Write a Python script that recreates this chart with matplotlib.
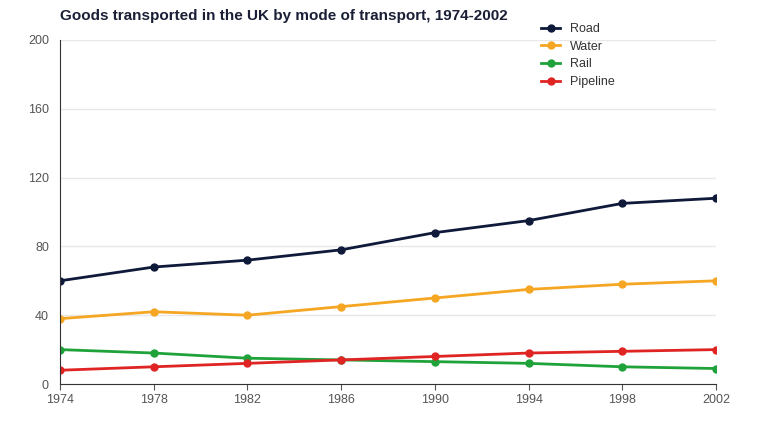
import matplotlib.pyplot as plt

years = [1974, 1978, 1982, 1986, 1990, 1994, 1998, 2002]
road = [60, 68, 72, 78, 88, 95, 105, 108]
water = [38, 42, 40, 45, 50, 55, 58, 60]
rail = [20, 18, 15, 14, 13, 12, 10, 9]
pipeline = [8, 10, 12, 14, 16, 18, 19, 20]

series = [("Road", road, "#0f1a3a"), ("Water", water, "#f5a623"),
          ("Rail", rail, "#1fa23a"), ("Pipeline", pipeline, "#e02424")]

plt.rcParams['font.family'] = ['Liberation Sans', 'DejaVu Sans']
fig = plt.figure(figsize=[7.6, 4.4], dpi=100)
ax = fig.add_axes([60/760, 56/440, 656/760, 344/440])

for name, vals, col in series:
    ax.plot(years, vals, color=col, lw=2, marker='o', ms=5, label=name)

ax.set_xlim(1974, 2002)
ax.set_ylim(0, 200)
ax.set_xticks(years)
ax.set_yticks(range(0, 201, 40))
ax.grid(axis='y', color='#e8e8e8', lw=1)
ax.set_axisbelow(True)
for s in ['top', 'right']:
    ax.spines[s].set_visible(False)
ax.spines['left'].set_color('#333333')
ax.spines['bottom'].set_color('#333333')
ax.tick_params(colors='#555555', labelsize=9, length=4)
ax.tick_params(axis='y', length=0, pad=8)

fig.text(60/760, 1 - 16/440, "Goods transported in the UK by mode of transport, 1974-2002",
         fontsize=11, fontweight='bold', color='#1a1f36', va='center')
ax.legend(loc='upper left', bbox_to_anchor=(470/656, 1 + 28/344), frameon=False,
          fontsize=9, handlelength=1.5, labelspacing=0.45, labelcolor='#333333')

plt.savefig("out.png", dpi=100)
